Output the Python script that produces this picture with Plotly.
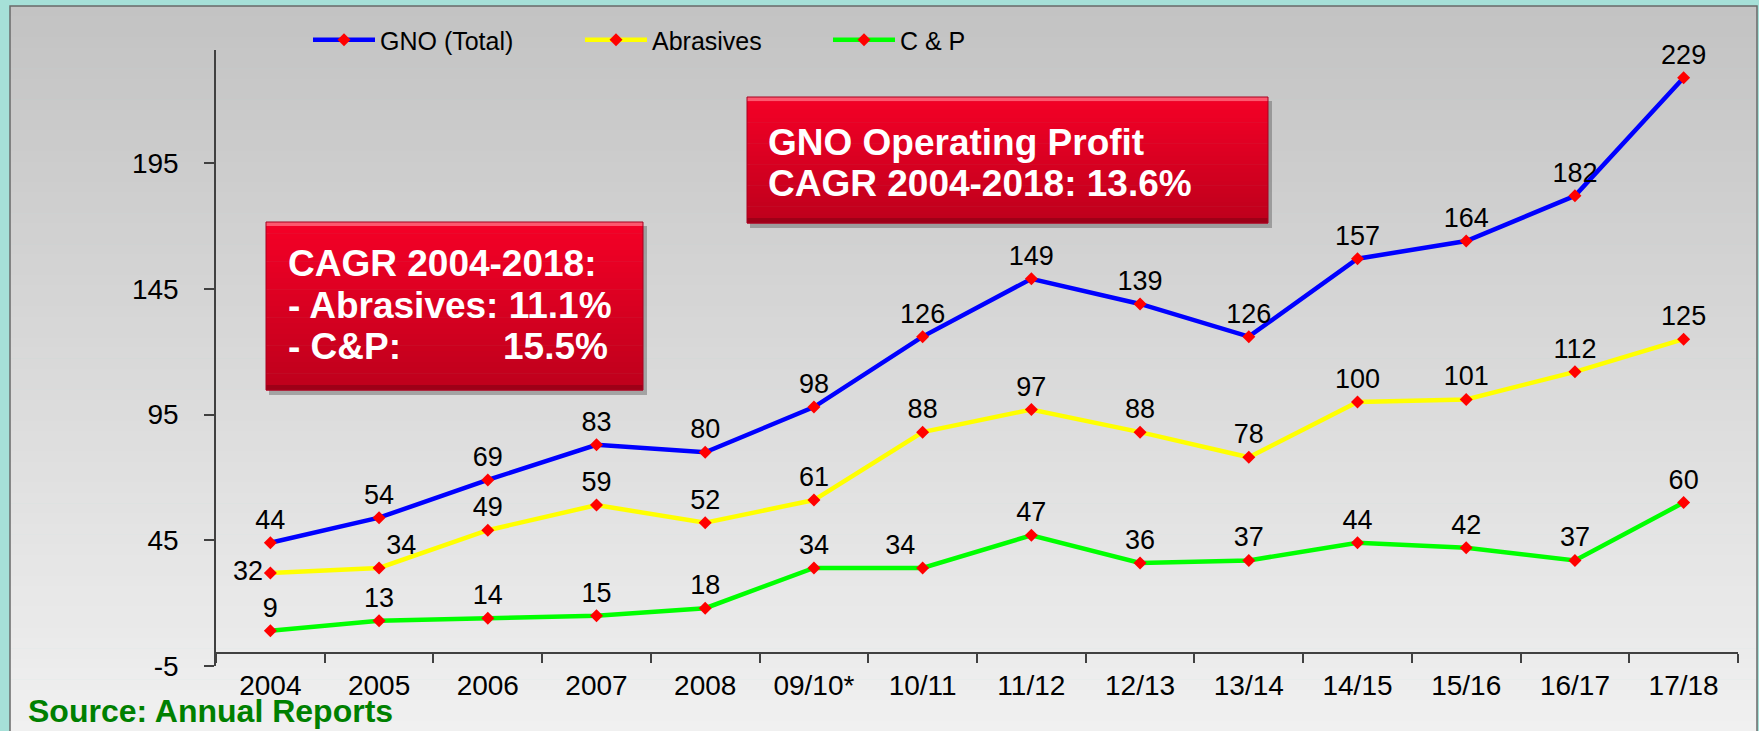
import plotly.graph_objects as go

# data
periods = ["2004", "2005", "2006", "2007", "2008", "09/10*", "10/11",
           "11/12", "12/13", "13/14", "14/15", "15/16", "16/17", "17/18"]
gno_total = [44, 54, 69, 83, 80, 98, 126, 149, 139, 126, 157, 164, 182, 229]
abrasives = [32, 34, 49, 59, 52, 61, 88, 97, 88, 78, 100, 101, 112, 125]
cp = [9, 13, 14, 15, 18, 34, 34, 47, 36, 37, 44, 42, 37, 60]

y_ticks = [-5, 45, 95, 145, 195]
y_tick_text = ["-5", "45", "95", "145", "195"]

W_PX, H_PX = 1759, 731
ML, MR, MT, MB = 216, 21, 50, 65
PW = W_PX - ML - MR
PH = H_PX - MT - MB

FONT = "Liberation Sans, Arial, sans-serif"


def px_x(px):
    return (px - ML) / PW


def px_y(py):
    return (H_PX - MB - py) / PH


def mix(c1, c2, t):
    return "rgb(%d,%d,%d)" % tuple(round(a + (b - a) * t) for a, b in zip(c1, c2))


shapes = []

# grey panel with a vertical gradient
n_bands = 70
band = (731 - 6) / n_bands
for i in range(n_bands):
    shapes.append(dict(
        type="rect", xref="paper", yref="paper", layer="below",
        x0=px_x(10), x1=px_x(1757),
        y0=px_y(6 + i * band), y1=px_y(6 + (i + 1) * band + 0.6),
        fillcolor=mix((195, 195, 195), (240, 240, 240), i / (n_bands - 1)),
        line=dict(width=0),
    ))
shapes.append(dict(type="rect", xref="paper", yref="paper", layer="below",
                   x0=px_x(10), x1=px_x(1757), y0=px_y(6), y1=px_y(740),
                   line=dict(color="#6a6a6a", width=1.5)))


def red_box(x0, y0, x1, y1):
    # drop shadow
    shapes.append(dict(type="rect", xref="paper", yref="paper", layer="above",
                       x0=px_x(x0 + 3), x1=px_x(x1 + 4), y0=px_y(y0 + 4), y1=px_y(y1 + 5),
                       fillcolor="rgba(60,60,60,0.35)", line=dict(width=0)))
    step = (y1 - y0) / 30
    top, bottom = (244, 0, 38), (190, 0, 28)
    for i in range(30):
        shapes.append(dict(type="rect", xref="paper", yref="paper", layer="above",
                           x0=px_x(x0), x1=px_x(x1),
                           y0=px_y(y0 + i * step), y1=px_y(y0 + (i + 1) * step + 0.6),
                           fillcolor=mix(top, bottom, i / 29), line=dict(width=0)))
    # bevel: light strip on top, darker strip at the bottom
    shapes.append(dict(type="rect", xref="paper", yref="paper", layer="above",
                       x0=px_x(x0), x1=px_x(x1), y0=px_y(y0), y1=px_y(y0 + 4),
                       fillcolor="rgba(255,110,130,0.8)", line=dict(width=0)))
    shapes.append(dict(type="rect", xref="paper", yref="paper", layer="above",
                       x0=px_x(x0), x1=px_x(x1), y0=px_y(y1 - 5), y1=px_y(y1),
                       fillcolor="rgba(130,0,20,0.55)", line=dict(width=0)))
    shapes.append(dict(type="rect", xref="paper", yref="paper", layer="above",
                       x0=px_x(x0), x1=px_x(x1), y0=px_y(y0), y1=px_y(y1),
                       fillcolor="rgba(0,0,0,0)", line=dict(color="#a80020", width=1)))


red_box(266, 222, 643, 390)
red_box(747, 97, 1268, 223)

fig = go.Figure()

series = [
    ("GNO (Total)", gno_total, "#0000ff", "legend"),
    ("Abrasives", abrasives, "#ffff00", "legend2"),
    ("C & P", cp, "#00ff00", "legend3"),
]
positions = {
    "Abrasives": ["middle left", "top right"] + ["top center"] * 12,
    "C & P": ["top center"] * 6 + ["top left"] + ["top center"] * 7,
}
for name, vals, color, leg in series:
    fig.add_trace(go.Scatter(
        x=periods, y=vals, name=name, legend=leg,
        mode="lines+markers+text",
        line=dict(color=color, width=4.5),
        marker=dict(symbol="diamond", size=10, color="#ff0000"),
        text=[str(v) for v in vals],
        textposition=positions.get(name, "top center"),
        textfont=dict(family=FONT, size=27, color="#000000"),
        cliponaxis=False,
    ))

legend_common = dict(
    orientation="h", xanchor="left", yanchor="middle",
    bgcolor="rgba(0,0,0,0)", borderwidth=0, itemwidth=62,
    font=dict(family=FONT, size=25, color="#000000"),
)
y_leg = px_y(40)


def box_text(x, y, text, anchor="left"):
    return dict(xref="paper", yref="paper", x=px_x(x), y=px_y(y),
                xanchor=anchor, yanchor="middle", showarrow=False, text=text,
                font=dict(family=FONT, size=37, color="#ffffff", weight="bold"))


fig.update_layout(
    width=W_PX, height=H_PX,
    margin=dict(l=ML, r=MR, t=MT, b=MB),
    paper_bgcolor="#a6e0d8",
    plot_bgcolor="rgba(0,0,0,0)",
    font=dict(family=FONT, color="#000000"),
    showlegend=True,
    shapes=shapes,
    legend=dict(x=px_x(308), y=y_leg, **legend_common),
    legend2=dict(x=px_x(580), y=y_leg, **legend_common),
    legend3=dict(x=px_x(828), y=y_leg, **legend_common),
    xaxis=dict(
        type="category", range=[-0.5, len(periods) - 0.5],
        anchor="free", position=(0 - (-5)) / 245,
        showline=True, linecolor="#404040", linewidth=1.5,
        ticks="outside", tickson="boundaries", ticklen=9,
        tickcolor="#404040", tickwidth=1.5,
        showgrid=False, zeroline=False,
        tickfont=dict(family=FONT, size=28, color="#000000"),
        ticklabelstandoff=7,
    ),
    yaxis=dict(
        range=[-5, 240], tickvals=y_ticks, ticktext=y_tick_text,
        showline=True, linecolor="#404040", linewidth=1.5,
        ticks="outside", ticklen=10, tickcolor="#404040", tickwidth=1.5,
        showgrid=False, zeroline=False,
        tickfont=dict(family=FONT, size=28, color="#000000"),
        ticklabelstandoff=20,
    ),
    annotations=[
        box_text(286, 263, "CAGR 2004-2018:"),
        box_text(286, 305, "- Abrasives: 11.1%"),
        box_text(286, 347, "- C&P:"),
        box_text(610, 347, "15.5%", anchor="right"),
        box_text(766, 142, "GNO Operating Profit"),
        box_text(766, 183, "CAGR 2004-2018: 13.6%"),
        dict(xref="paper", yref="paper", x=px_x(26), y=px_y(711),
             xanchor="left", yanchor="middle", showarrow=False,
             text="Source: Annual Reports",
             font=dict(family=FONT, size=32, color="#008000", weight="bold")),
    ],
)

fig.write_html(
    "out.html",
    config={"displayModeBar": False},
    post_script="document.body.style.margin='0';document.body.style.overflow='hidden';",
)
